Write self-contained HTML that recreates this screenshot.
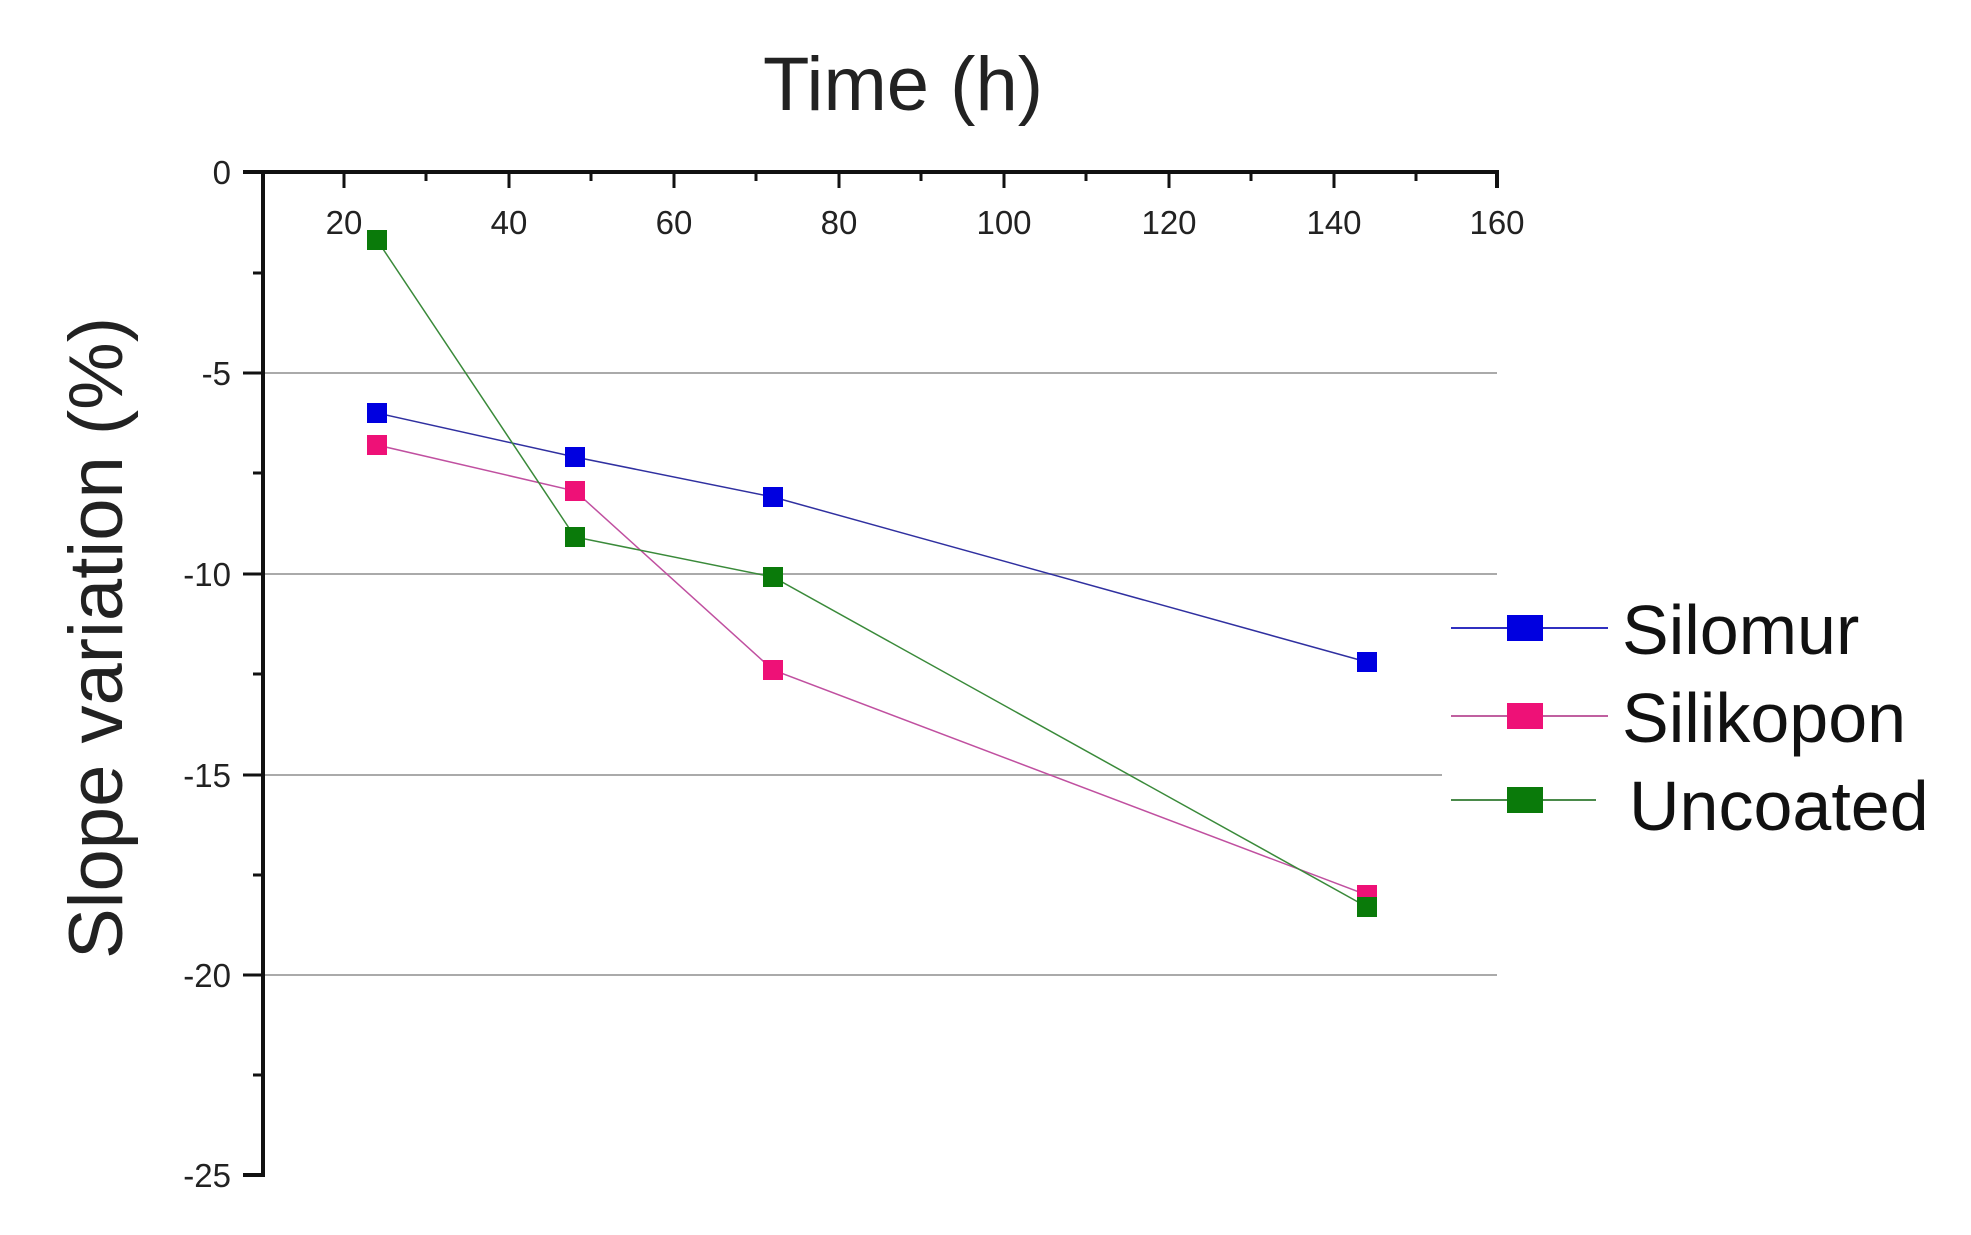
<!DOCTYPE html>
<html><head><meta charset="utf-8"><style>html,body{margin:0;padding:0;background:#fff;}</style></head>
<body>
<svg width="1971" height="1230" viewBox="0 0 1971 1230" xmlns="http://www.w3.org/2000/svg" font-family="Liberation Sans, Arial, sans-serif">
<rect width="1971" height="1230" fill="#fff"/>
<g stroke="#aaa" stroke-width="2">
<line x1="263" y1="373" x2="1497" y2="373"/>
<line x1="263" y1="574" x2="1497" y2="574"/>
<line x1="263" y1="775" x2="1442" y2="775"/>
<line x1="263" y1="975" x2="1497" y2="975"/>
</g>
<g stroke="#111" stroke-width="4" fill="none">
<line x1="243" y1="172" x2="1497" y2="172"/>
<line x1="263" y1="170" x2="263" y2="1177"/>
<line x1="1497" y1="170" x2="1497" y2="188"/>
<line x1="243" y1="1175" x2="263" y2="1175"/>
</g>
<g stroke="#111" stroke-width="3">
<line x1="243" y1="373" x2="263" y2="373"/><line x1="243" y1="574" x2="263" y2="574"/>
<line x1="243" y1="775" x2="263" y2="775"/><line x1="243" y1="975" x2="263" y2="975"/>
<line x1="253" y1="273" x2="263" y2="273"/><line x1="253" y1="473" x2="263" y2="473"/>
<line x1="253" y1="674" x2="263" y2="674"/><line x1="253" y1="875" x2="263" y2="875"/>
<line x1="253" y1="1075" x2="263" y2="1075"/>
<line x1="344" y1="172" x2="344" y2="188"/><line x1="509" y1="172" x2="509" y2="188"/>
<line x1="674" y1="172" x2="674" y2="188"/><line x1="839" y1="172" x2="839" y2="188"/>
<line x1="1004" y1="172" x2="1004" y2="188"/><line x1="1169" y1="172" x2="1169" y2="188"/>
<line x1="1334" y1="172" x2="1334" y2="188"/>
<line x1="426" y1="172" x2="426" y2="181"/><line x1="591" y1="172" x2="591" y2="181"/>
<line x1="756" y1="172" x2="756" y2="181"/><line x1="921" y1="172" x2="921" y2="181"/>
<line x1="1086" y1="172" x2="1086" y2="181"/><line x1="1251" y1="172" x2="1251" y2="181"/>
<line x1="1416" y1="172" x2="1416" y2="181"/>
</g>
<g font-size="33" fill="#222" text-anchor="end">
<text x="231" y="184">0</text><text x="231" y="385">-5</text><text x="231" y="586">-10</text>
<text x="231" y="787">-15</text><text x="231" y="987">-20</text><text x="231" y="1187">-25</text>
</g>
<g font-size="33" fill="#222" text-anchor="middle">
<text x="344" y="234">20</text><text x="509" y="234">40</text><text x="674" y="234">60</text>
<text x="839" y="234">80</text><text x="1004" y="234">100</text><text x="1169" y="234">120</text>
<text x="1334" y="234">140</text><text x="1497" y="234">160</text>
</g>
<text x="903" y="110" font-size="76" text-anchor="middle" fill="#222">Time (h)</text>
<text transform="translate(122,638) rotate(-90)" font-size="76" text-anchor="middle" fill="#222">Slope variation (%)</text>
<polyline points="377,413 575,457 773,497 1367,662" fill="none" stroke="#3030a0" stroke-width="1.5"/>
<polyline points="377,445 575,491 773,670 1367,895" fill="none" stroke="#c050a0" stroke-width="1.5"/>
<polyline points="377,240 575,537 773,577 1367,907" fill="none" stroke="#3a8a3a" stroke-width="1.5"/>
<g fill="#0000e0"><rect x="367" y="403" width="20" height="20"/><rect x="565" y="447" width="20" height="20"/><rect x="763" y="487" width="20" height="20"/><rect x="1357" y="652" width="20" height="20"/></g>
<g fill="#ee1177"><rect x="367" y="435" width="20" height="20"/><rect x="565" y="481" width="20" height="20"/><rect x="763" y="660" width="20" height="20"/><rect x="1357" y="885" width="20" height="20"/></g>
<g fill="#0a7a0a"><rect x="367" y="230" width="20" height="20"/><rect x="565" y="527" width="20" height="20"/><rect x="763" y="567" width="20" height="20"/><rect x="1357" y="897" width="20" height="20"/></g>
<line x1="1451" y1="628" x2="1608" y2="628" stroke="#3030c0" stroke-width="2"/>
<rect x="1507" y="615" width="36" height="26" fill="#0000e0"/>
<text x="1622" y="654" font-size="70" fill="#111">Silomur</text>
<line x1="1451" y1="716" x2="1608" y2="716" stroke="#c060a0" stroke-width="2"/>
<rect x="1507" y="703" width="36" height="26" fill="#ee1177"/>
<text x="1622" y="742" font-size="70" fill="#111">Silikopon</text>
<line x1="1451" y1="800" x2="1596" y2="800" stroke="#4a8a4a" stroke-width="2"/>
<rect x="1507" y="787" width="36" height="26" fill="#0a7a0a"/>
<text x="1629" y="830" font-size="70" fill="#111">Uncoated</text>
</svg>
</body></html>
